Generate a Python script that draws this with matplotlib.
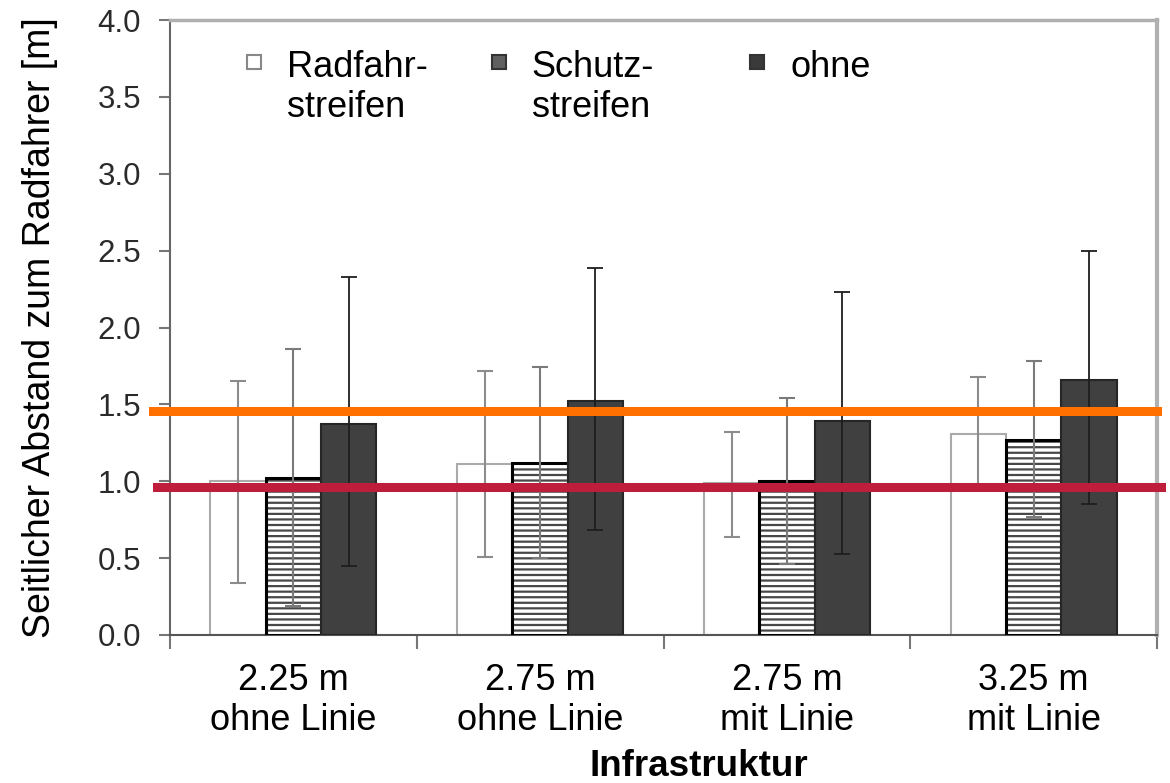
import numpy as np
import matplotlib.pyplot as plt
from matplotlib.lines import Line2D

plt.rcParams['font.family'] = ['Liberation Sans', 'DejaVu Sans']
plt.rcParams['hatch.linewidth'] = 1.6

categories = ['2.25 m\nohne Linie', '2.75 m\nohne Linie', '2.75 m\nmit Linie', '3.25 m\nmit Linie']
series_names = ['Radfahr-\nstreifen', 'Schutz-\nstreifen', 'ohne']

radfahr = [1.00, 1.11, 0.99, 1.31]
radfahr_lo = [0.34, 0.51, 0.64, 0.95]
radfahr_hi = [1.65, 1.72, 1.32, 1.68]

schutz = [1.02, 1.12, 1.00, 1.27]
schutz_lo = [0.19, 0.50, 0.46, 0.77]
schutz_hi = [1.86, 1.74, 1.54, 1.78]

ohne = [1.37, 1.52, 1.39, 1.66]
ohne_lo = [0.45, 0.68, 0.53, 0.85]
ohne_hi = [2.33, 2.39, 2.23, 2.50]

ref_orange = 1.46
ref_red = 0.96

fig = plt.figure(figsize=(11.7, 7.83), dpi=100)
ax = fig.add_axes([170/1170, 1-635/783, 987/1170, 615/783])

x = np.arange(len(categories))
w = 0.224

def yerr(mean, lo, hi):
    mean = np.array(mean)
    return [mean - np.array(lo), np.array(hi) - mean]

ax.bar(x - w, radfahr, w, color='white', edgecolor='#aaaaaa', linewidth=1.5, zorder=2)
# hatched bar: grey stripes, black outline drawn on top
ax.bar(x, schutz, w, color='white', edgecolor='#484848', hatch='---', linewidth=0, zorder=3)
ax.bar(x, schutz, w, color='none', edgecolor='black', linewidth=2.2, zorder=3)
ax.bar(x + w, ohne, w, color='#404040', edgecolor='#262626', linewidth=1.5, zorder=3)

ax.errorbar(x - w, radfahr, yerr=yerr(radfahr, radfahr_lo, radfahr_hi), fmt='none',
            ecolor='#8c8c8c', elinewidth=1.5, capsize=6, capthick=1.5, zorder=4)
ax.errorbar(x, schutz, yerr=yerr(schutz, schutz_lo, schutz_hi), fmt='none',
            ecolor='#7a7a7a', elinewidth=1.5, capsize=6, capthick=1.5, zorder=4)
ax.errorbar(x + w, ohne, yerr=yerr(ohne, ohne_lo, ohne_hi), fmt='none',
            ecolor='#1e1e1e', elinewidth=1.3, capsize=6, capthick=1.3, zorder=4)

ax.axhline(ref_orange, xmin=-0.017, xmax=1.0, color='#ff7000', linewidth=6.5, clip_on=False, zorder=5)
ax.axhline(ref_red, xmin=-0.013, xmax=1.004, color='#be1e3c', linewidth=6.5, clip_on=False, zorder=5)

ax.set_xlim(-0.5, 3.5)
ax.set_ylim(0, 4.0)
ax.set_yticks(np.arange(0, 4.01, 0.5))
ax.set_yticklabels(['{:.1f}'.format(v) for v in np.arange(0, 4.01, 0.5)])
ax.tick_params(axis='y', labelsize=22.5, labelcolor='#2a2a2a', length=8, width=1.5,
               color='#777777', pad=13)

ax.set_xticks(x)
ax.set_xticklabels(categories, fontsize=26)
ax.tick_params(axis='x', which='major', length=0, pad=20)
ax.set_xticks(np.arange(-0.5, 3.6, 1.0), minor=True)
ax.tick_params(axis='x', which='minor', length=10, width=1.5, color='#777777')

ax.spines['left'].set_color('#666666')
ax.spines['left'].set_linewidth(1.5)
ax.spines['bottom'].set_color('#555555')
ax.spines['bottom'].set_linewidth(1.5)
ax.spines['top'].set_color('#b0b0b0')
ax.spines['top'].set_linewidth(2.5)
ax.spines['right'].set_color('#b0b0b0')
ax.spines['right'].set_linewidth(3)

ax.set_ylabel('Seitlicher Abstand zum Radfahrer [m]', fontsize=27, va='center')
ax.yaxis.set_label_coords(-0.132, 0.5)

fig.text(699/1170, 1-776/783, 'Infrastruktur', fontsize=26.5, fontweight='bold',
         ha='center', va='baseline')

# legend: three separate entries, marker aligned to the first text line
handles = [
    Line2D([], [], linestyle='none', marker='s', markersize=10, markerfacecolor='white',
           markeredgecolor='#888888', markeredgewidth=1.5),
    Line2D([], [], linestyle='none', marker='s', markersize=10, markerfacecolor='#606060',
           markeredgecolor='#333333', markeredgewidth=1.5),
    Line2D([], [], linestyle='none', marker='s', markersize=10, markerfacecolor='#3a3a3a',
           markeredgecolor='#333333', markeredgewidth=1.5),
]
anchors = [0.074, 0.322, 0.584]
legends = []
for h, name, ax_x in zip(handles, series_names, anchors):
    leg = ax.legend([h], [name], loc='upper left', bbox_to_anchor=(ax_x, 0.952),
                    frameon=False, fontsize=26, handlelength=0.6, handletextpad=0.62,
                    borderpad=0, borderaxespad=0)
    for col in leg._legend_handle_box.get_children():
        for row in col.get_children():
            row.align = 'top'
    legends.append(leg)
for leg in legends[:-1]:
    ax.add_artist(leg)

plt.savefig('out.png', dpi=100)
